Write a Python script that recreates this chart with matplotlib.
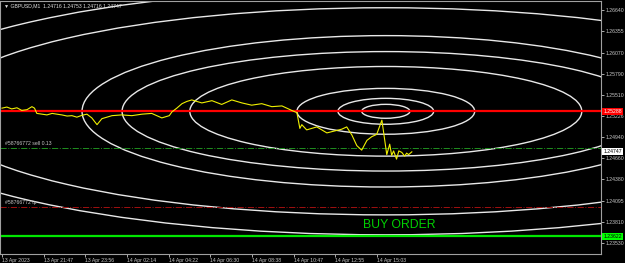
import matplotlib
matplotlib.use('Agg')
import matplotlib.pyplot as plt
from matplotlib.patches import Ellipse

# price line, (bar index, price)
price_bars = [0, 15, 30, 46, 61, 77, 92, 100, 107, 123, 138, 154, 169, 184, 200, 215, 230, 246, 261, 276,
              292, 307, 338, 368, 399, 430, 460, 491, 514, 522, 537, 553, 568, 583, 614, 645, 675, 706, 737,
              767, 798, 829, 860, 890, 906, 915, 921, 936, 967, 998, 1044, 1059, 1075, 1090, 1105, 1121, 1136,
              1151, 1167, 1182, 1191, 1197, 1203, 1212, 1219, 1228, 1237, 1243, 1249, 1259]
price_vals = [1.25330, 1.25345, 1.25320, 1.25335, 1.25300, 1.25310, 1.25350, 1.25330, 1.25260, 1.25250,
              1.25240, 1.25260, 1.25250, 1.25240, 1.25225, 1.25230, 1.25210, 1.25235, 1.25250, 1.25200,
              1.25110, 1.25190, 1.25230, 1.25240, 1.25230, 1.25250, 1.25260, 1.25200, 1.25230, 1.25280,
              1.25330, 1.25390, 1.25420, 1.25440, 1.25400, 1.25430, 1.25380, 1.25440, 1.25400, 1.25370,
              1.25390, 1.25350, 1.25360, 1.25300, 1.25270, 1.25060, 1.25110, 1.25040, 1.25080, 1.25000,
              1.25050, 1.25080, 1.24970, 1.24830, 1.24770, 1.24900, 1.24950, 1.24980, 1.25170, 1.24710,
              1.24850, 1.24700, 1.24760, 1.24650, 1.24760, 1.24740, 1.24690, 1.24730, 1.24710, 1.24747]

# ellipses: centre bar / price, half width (bars), half height (price)
ell_cx, ell_cy = 1179, 1.25288
ell_a = [74, 147, 273, 602, 810, 933, 1382, 1581]
ell_b = [0.00093, 0.00173, 0.00306, 0.00598, 0.00797, 0.01010, 0.01382, 0.01648]

yticks = [1.26640, 1.26355, 1.26070, 1.25790, 1.25510, 1.25226, 1.24940, 1.24660, 1.24380, 1.24095, 1.23810, 1.23530]
xtick_bars = [0, 128, 256, 384, 512, 640, 768, 896, 1024, 1152]
xtick_labels = ['13 Apr 2023', '13 Apr 21:47', '13 Apr 23:56', '14 Apr 02:14', '14 Apr 04:22',
                '14 Apr 06:30', '14 Apr 08:38', '14 Apr 10:47', '14 Apr 12:55', '14 Apr 15:03']

red_level = 1.25288
green_level = 1.23622
bid_level = 1.24747
sell_level = 1.24793
tp_level = 1.24008

fs = 3.7
plt.rcParams['font.family'] = ['Liberation Sans', 'DejaVu Sans']

fig = plt.figure(figsize=(6.25, 2.63), dpi=100, facecolor='black')
ax = fig.add_axes([0.0, 1 - 254 / 263, 601 / 625, 253 / 263])
ax.set_facecolor('black')

for a, b in zip(ell_a, ell_b):
    ax.add_patch(Ellipse((ell_cx, ell_cy), 2 * a, 2 * b, fill=False, edgecolor='#e8e8e8', lw=1.0))

ax.axhline(sell_level, color='#1f8f1f', lw=0.7, ls='-.')
ax.axhline(tp_level, color='#a01010', lw=0.7, ls='-.')
ax.axhline(red_level, color='#ff0000', lw=1.6)
ax.axhline(green_level, color='#00e600', lw=1.6)

ax.plot(price_bars, price_vals, color='#f0f000', lw=0.8)

ax.set_xlim(-6, 1840)
ax.set_ylim(1.23384, 1.26760)

ax.yaxis.tick_right()
ax.set_yticks(yticks)
ax.set_yticklabels([f'{v:.5f}' for v in yticks])
ax.set_xticks(xtick_bars)
ax.set_xticklabels(xtick_labels, ha='left')
ax.tick_params(colors='#c8c8c8', labelsize=fs, length=2, width=0.6, pad=1.2)
for s in ax.spines.values():
    s.set_color('#a0a0a0')
    s.set_linewidth(0.8)

ax.text(0.006, 0.99, '\u25bc GBPUSD,M1  1.24716 1.24753 1.24716 1.24747', transform=ax.transAxes,
        color='#e0e0e0', fontsize=fs, va='top', ha='left')
ax.text(8, sell_level + 0.0003, '#58766772 sell 0.13', color='#c8c8c8', fontsize=fs, va='bottom')
ax.text(8, tp_level + 0.0003, '#58766772 tp', color='#c8c8c8', fontsize=fs, va='bottom')
ax.text(1108, 1.23769, 'BUY ORDER', color='#00d000', fontsize=8.8, va='center')

box = dict(boxstyle='square,pad=0.2', lw=0)
ax.text(1.004, red_level, f'{red_level:.5f}', transform=ax.get_yaxis_transform(), fontsize=fs,
        color='white', va='center', bbox=dict(box, fc='#ff0000'))
ax.text(1.004, bid_level, f'{bid_level:.5f}', transform=ax.get_yaxis_transform(), fontsize=fs,
        color='black', va='center', bbox=dict(box, fc='white'))
ax.text(1.004, green_level, f'{green_level:.5f}', transform=ax.get_yaxis_transform(), fontsize=fs,
        color='black', va='center', bbox=dict(box, fc='#00ff00'))

fig.savefig('out.png', dpi=100, facecolor='black')
